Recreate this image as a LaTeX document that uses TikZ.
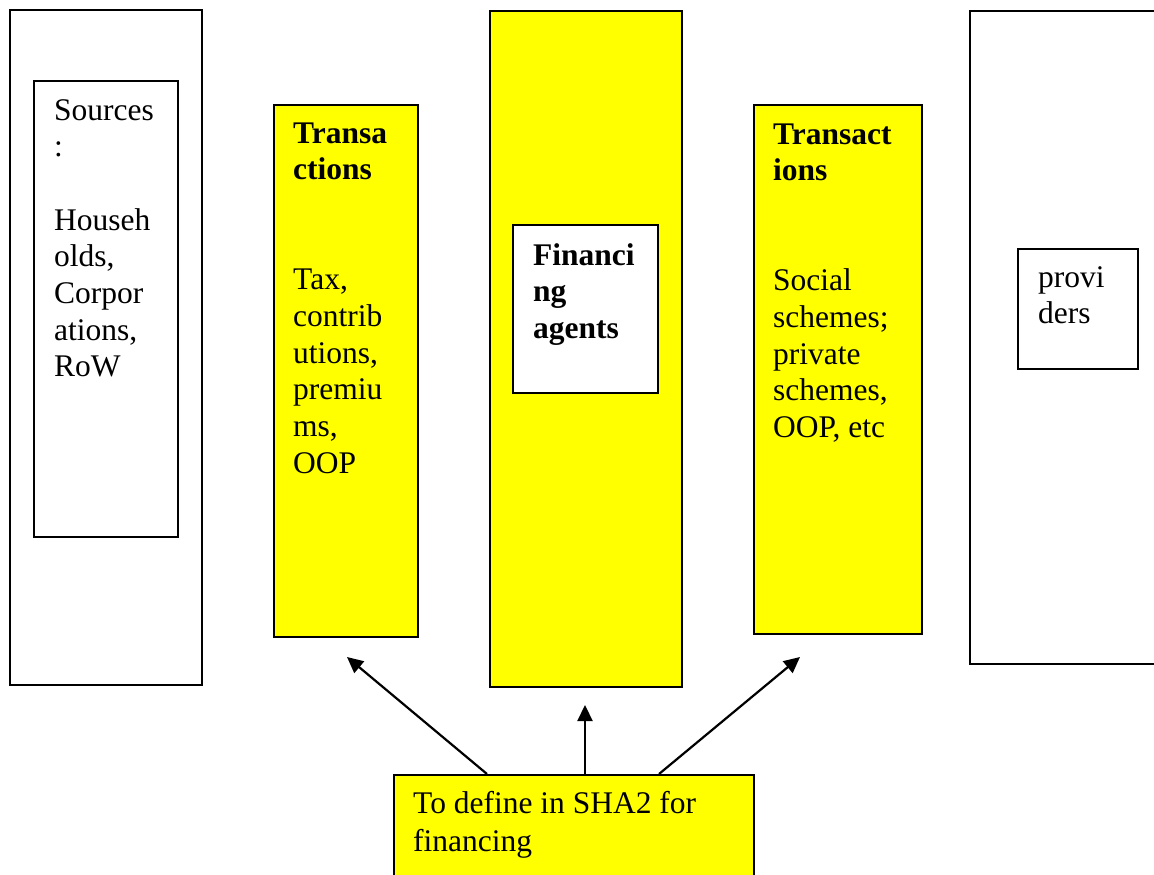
\documentclass[tikz,border=0pt]{standalone}
\usepackage{fontspec}
\setmainfont{Liberation Serif}
\usetikzlibrary{arrows.meta}
\definecolor{yel}{RGB}{255,255,0}
\newcommand{\tlines}[1]{\vtop{\baselineskip=36.7pt\lineskip=0pt\lineskiplimit=-100pt\halign{##\hfil\cr#1\crcr}}}
\tikzset{
  box/.style={draw=black, line width=2pt, anchor=north west, inner sep=0pt},
  wbox/.style={box, fill=white},
  ybox/.style={box, fill=yel},
  txt/.style={anchor=base west, inner sep=0pt, font=\fontsize{31.5}{36.7}\selectfont},
  arr/.style={line width=2.2pt, -{Triangle[length=16pt,width=15pt]}}
}
\begin{document}
\begin{tikzpicture}[x=1pt,y=-1pt]
\useasboundingbox (0,0) rectangle (1154,875);
\clip (0,0) rectangle (1154,875);
% outer boxes
\node[wbox, minimum width=192pt, minimum height=675pt] (srcout) at (9,9) {};
\node[wbox, minimum width=144pt, minimum height=456pt] (src) at (33,80) {};
\node[ybox, minimum width=144pt, minimum height=532pt] (tr1) at (273,104) {};
\node[ybox, minimum width=192pt, minimum height=676pt] (fa) at (489,10) {};
\node[wbox, minimum width=145pt, minimum height=168pt] (fain) at (512,224) {};
\node[ybox, minimum width=168pt, minimum height=529pt] (tr2) at (753,104) {};
\node[wbox, minimum width=240pt, minimum height=653pt] (provout) at (969,10) {};
\node[wbox, minimum width=120pt, minimum height=120pt] (prov) at (1017,248) {};
\node[ybox, minimum width=360pt, minimum height=160pt] (def) at (393,774) {};
% texts
\node[txt] (srct) at (54,120) {\tlines{Sources\cr :\cr \cr Househ\cr olds,\cr Corpor\cr ations,\cr RoW}};
\node[txt] (tr1t) at (293,143) {\tlines{\textbf{Transa}\cr \textbf{ctions}\cr \cr \cr Tax,\cr contrib\cr utions,\cr premiu\cr ms,\cr OOP}};
\node[txt] (fat) at (533,265) {\tlines{\textbf{Financi}\cr \textbf{ng}\cr \textbf{agents}}};
\node[txt] (tr2t) at (773,144) {\tlines{\textbf{Transact}\cr \textbf{ions}\cr \cr \cr Social\cr schemes;\cr private\cr schemes,\cr OOP, etc}};
\node[txt] (provt) at (1038,287) {\tlines{provi\cr ders}};
\node[txt] (deft) at (413,813) {\vtop{\baselineskip=38pt\halign{#\hfil\cr To define in SHA2 for\cr financing\crcr}}};
% arrows
\coordinate (e1) at (347,657);
\coordinate (e2) at (585,705);
\coordinate (e3) at (800,657);
\draw[arr] ([xshift=94pt]def.north west) -- (e1);
\draw[arr] ([xshift=192pt]def.north west) -- (e2);
\draw[arr] ([xshift=266pt]def.north west) -- (e3);
\end{tikzpicture}
\end{document}
